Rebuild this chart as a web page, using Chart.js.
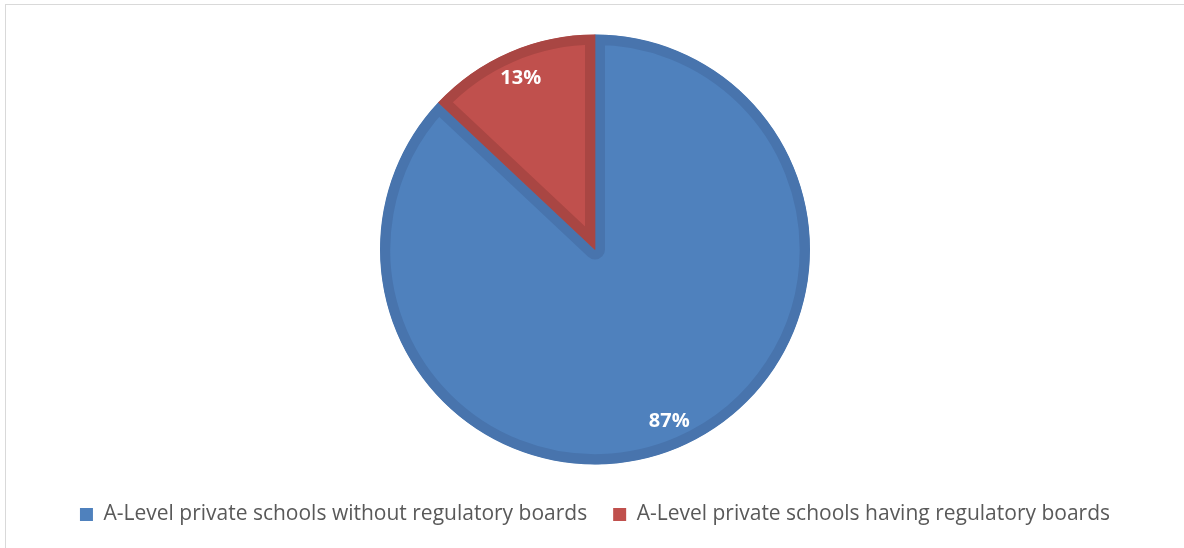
<!DOCTYPE html>
<html>
<head>
<meta charset="utf-8">
<script src="https://cdn.jsdelivr.net/npm/chart.js@4"></script>
<style>
  html, body { margin: 0; padding: 0; background: #fff; }
  #wrap { position: relative; width: 1184px; height: 548px; overflow: hidden; }
  #frame { position: absolute; left: 5px; top: 4px; width: 1300px; height: 700px;
           border-top: 1px solid #d9d9d9; border-left: 1px solid #d9d9d9; }
  canvas { position: absolute; left: 0; top: 0; }
</style>
</head>
<body>
<div id="wrap">
  <div id="frame"></div>
  <canvas id="chart" width="1184" height="548"></canvas>
</div>
<script>
// Share of A-Level private schools, by regulatory board status.
const categories = [
  'A-Level private schools without regulatory boards',
  'A-Level private schools having regulatory boards',
];
const values = [87, 13];
const fills = ['#4f81bd', '#c0504d'];
const edges = ['#4874ad', '#a94643'];

// White percentage labels near the outer rim of each slice (like Excel "inside end").
const sliceLabels = {
  id: 'sliceLabels',
  afterDatasetsDraw(chart) {
    const { ctx } = chart;
    const meta = chart.getDatasetMeta(0);
    const total = values.reduce((a, b) => a + b, 0);
    ctx.save();
    ctx.fillStyle = '#ffffff';
    ctx.font = 'bold 20px "Open Sans", Lato, sans-serif';
    ctx.textAlign = 'center';
    ctx.textBaseline = 'middle';
    meta.data.forEach((arc, i) => {
      const { x, y, startAngle, endAngle, outerRadius } = arc.getProps(
        ['x', 'y', 'startAngle', 'endAngle', 'outerRadius'], true);
      const mid = (startAngle + endAngle) / 2;
      const r = outerRadius * 0.87;
      const pct = Math.round((values[i] / total) * 100) + '%';
      ctx.fillText(pct, x + Math.cos(mid) * r, y + Math.sin(mid) * r);
    });
    ctx.restore();
  },
};

new Chart(document.getElementById('chart'), {
  type: 'pie',
  data: {
    labels: categories,
    datasets: [{
      data: values,
      backgroundColor: fills,
      borderColor: edges,
      borderWidth: 10,
      borderAlign: 'inner',
    }],
  },
  options: {
    responsive: false,
    animation: false,
    radius: 215,
    layout: { padding: { top: 21, bottom: 13, left: 6, right: 0 } },
    plugins: {
      legend: {
        position: 'bottom',
        labels: {
          boxWidth: 13,
          boxHeight: 13,
          padding: 26,
          color: '#595959',
          font: { family: '"Open Sans", Lato, sans-serif', size: 21 },
          // plain square swatches, no slice border around them
          generateLabels: (chart) =>
            Chart.overrides.pie.plugins.legend.labels.generateLabels(chart)
              .map((item) => ({ ...item, lineWidth: 0, strokeStyle: item.fillStyle })),
        },
      },
      tooltip: { enabled: false },
    },
  },
  plugins: [sliceLabels],
});
</script>
</body>
</html>
